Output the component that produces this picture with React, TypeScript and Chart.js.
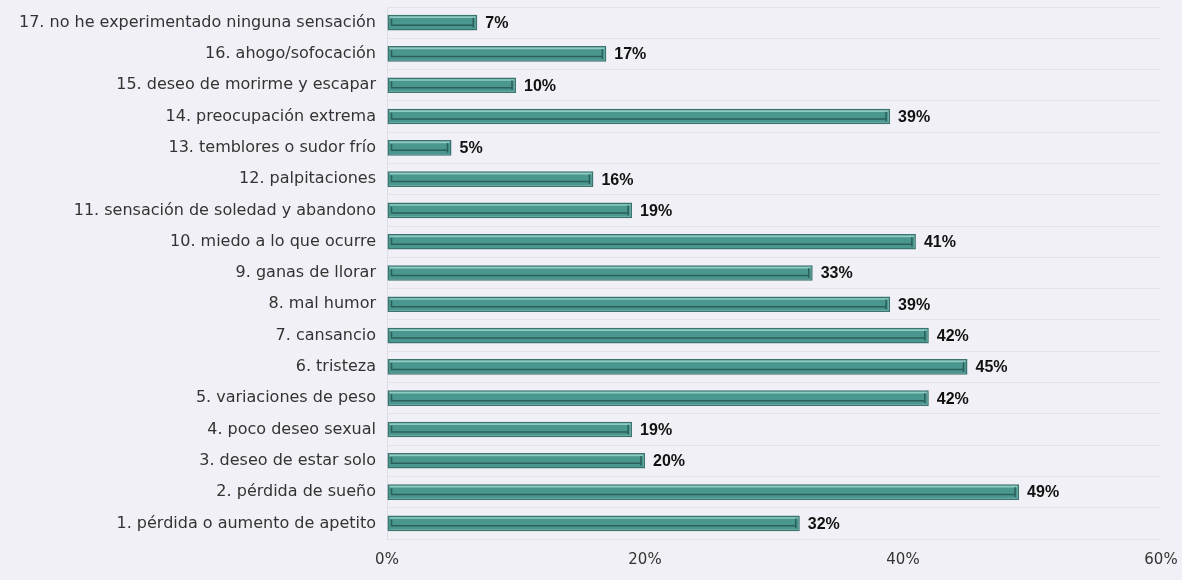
import React, { useEffect, useRef } from "react";
import { Chart, registerables } from "chart.js";

Chart.register(...registerables);

const categories = [
  "17. no he experimentado ninguna sensación",
  "16. ahogo/sofocación",
  "15. deseo de morirme y escapar",
  "14. preocupación extrema",
  "13. temblores o sudor frío",
  "12. palpitaciones",
  "11. sensación de soledad y abandono",
  "10. miedo a lo que ocurre",
  "9. ganas de llorar",
  "8. mal humor",
  "7. cansancio",
  "6. tristeza",
  "5. variaciones de peso",
  "4. poco deseo sexual",
  "3. deseo de estar solo",
  "2. pérdida de sueño",
  "1. pérdida o aumento de apetito",
];

const values = [7, 17, 10, 39, 5, 16, 19, 41, 33, 39, 42, 45, 42, 19, 20, 49, 32];

const xTicks = [0, 20, 40, 60];

const FONT = "'DejaVu Sans', sans-serif";
const LABEL_FONT = "'Liberation Sans', Arial, sans-serif";

const bgPlugin = {
  id: "bg",
  beforeDraw(chart: any) {
    const ctx = chart.ctx;
    ctx.save();
    ctx.fillStyle = "#f0f0f6";
    ctx.fillRect(0, 0, chart.width, chart.height);
    ctx.restore();
  },
};

const barDetailPlugin = {
  id: "barDetail",
  afterDatasetsDraw(chart: any) {
    const ctx = chart.ctx;
    const meta = chart.getDatasetMeta(0);
    ctx.save();
    meta.data.forEach((bar: any, i: number) => {
      const x0 = bar.base;
      const x1 = bar.x;
      const h = bar.height;
      const top = bar.y - h / 2;
      ctx.strokeStyle = "rgba(150,210,202,0.9)";
      ctx.lineWidth = 1.5;
      ctx.beginPath();
      ctx.moveTo(x0 + 2, top + 2.5);
      ctx.lineTo(x1 - 2, top + 2.5);
      ctx.stroke();
      ctx.strokeStyle = "#2b5f5a";
      ctx.lineWidth = 1.5;
      ctx.beginPath();
      ctx.moveTo(x0 + 4, top + 4);
      ctx.lineTo(x0 + 4, top + h * 0.66);
      ctx.lineTo(x1 - 4, top + h * 0.66);
      ctx.stroke();
      ctx.beginPath();
      ctx.moveTo(x1 - 4, top + 3);
      ctx.lineTo(x1 - 4, top + h - 3);
      ctx.stroke();
      ctx.fillStyle = "#111";
      ctx.font = `bold 16px ${LABEL_FONT}`;
      ctx.textAlign = "left";
      ctx.textBaseline = "middle";
      ctx.fillText(values[i] + "%", x1 + 8, bar.y + 1);
    });
    ctx.restore();
  },
};

export default function App() {
  const ref = useRef<HTMLCanvasElement>(null);
  useEffect(() => {
    const chart = new Chart(ref.current!, {
      type: "bar",
      data: {
        labels: categories,
        datasets: [
          {
            data: values,
            backgroundColor: "#4a978f",
            borderColor: "#3a746f",
            borderWidth: 1.5,
            borderSkipped: false,
            barPercentage: 0.5,
            categoryPercentage: 1,
          },
        ],
      },
      options: {
        indexAxis: "y",
        animation: false,
        responsive: true,
        maintainAspectRatio: false,
        layout: { padding: { top: 7, right: 21, left: 0, bottom: 0 } },
        plugins: { legend: { display: false }, tooltip: { enabled: false } },
        scales: {
          x: {
            min: 0,
            max: 60,
            afterBuildTicks(scale: any) {
              scale.ticks = xTicks.map((v) => ({ value: v }));
            },
            afterFit(scale: any) {
              scale.height = 41;
              scale.paddingLeft = 0;
              scale.paddingRight = 0;
            },
            grid: { display: true, drawTicks: false, color: (c: any) => (c.tick && c.tick.value === 0 ? "#dcdce4" : "rgba(0,0,0,0)") },
            border: { display: false },
            ticks: {
              padding: 12,
              color: "#333",
              font: { family: FONT, size: 15 },
              callback: (v: any) => v + "%",
            },
          },
          y: {
            afterFit(scale: any) {
              scale.width = 387;
              scale.paddingTop = 0;
              scale.paddingBottom = 0;
            },
            grid: { display: true, offset: true, drawTicks: false, color: "#e2e2ea", lineWidth: 1 },
            border: { display: false },
            ticks: {
              padding: 11,
              color: "#333",
              font: { family: FONT, size: 16 },
            },
          },
        },
      },
      plugins: [bgPlugin, barDetailPlugin],
    } as any);
    return () => chart.destroy();
  }, []);
  return (
    <div style={{ position: "fixed", left: 0, top: 0, width: 1182, height: 580, background: "#f0f0f6" }}>
      <canvas ref={ref} />
    </div>
  );
}
